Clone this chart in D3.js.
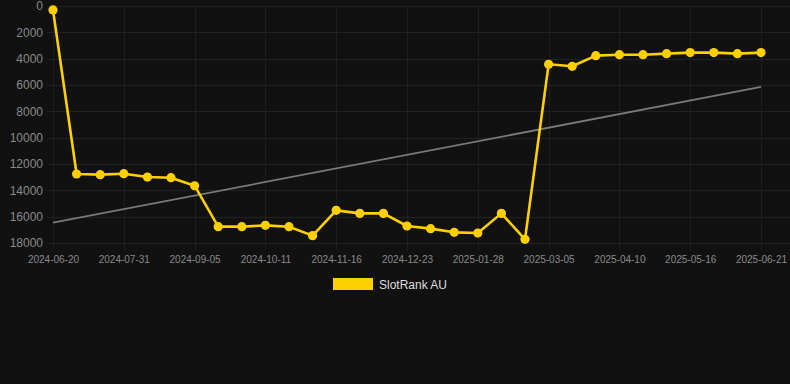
<!DOCTYPE html>
<html><head><meta charset="utf-8">
<script src="https://cdn.jsdelivr.net/npm/d3@7"></script>
<style>html,body{margin:0;padding:0;background:#111111;}svg{display:block;}</style>
</head><body>
<script>
const dates = ["2024-06-20","2024-07-03","2024-07-17","2024-07-31","2024-08-12","2024-08-24","2024-09-05","2024-09-17","2024-09-29","2024-10-11","2024-10-23","2024-11-04","2024-11-16","2024-11-28","2024-12-10","2024-12-23","2025-01-04","2025-01-16","2025-01-28","2025-02-09","2025-02-21","2025-03-05","2025-03-17","2025-03-29","2025-04-10","2025-04-22","2025-05-04","2025-05-16","2025-05-28","2025-06-09","2025-06-21"];
const ranks = [300,12760,12810,12735,12990,13040,13650,16760,16760,16660,16760,17440,15520,15750,15750,16710,16910,17190,17240,15750,17720,4430,4580,3770,3700,3700,3620,3540,3540,3620,3540];
const trendValues = [16460, 6150];
const yTicks = [0,2000,4000,6000,8000,10000,12000,14000,16000,18000];
const seriesName = "SlotRank AU";

(function(){
const W = 790, H = 384;
const svg = d3.select("body").append("svg").attr("width", W).attr("height", H);
svg.append("rect").attr("width", W).attr("height", H).attr("fill", "#111111");

const gridLeft = 47, gridRight = 790, plotTop = 6, plotBottom = 243;
const x = d3.scalePoint().domain(dates).range([53, 761]);
const y = d3.scaleLinear().domain([0, 18000]).range([plotTop, plotBottom]);
const labelDates = dates.filter((d, i) => i % 3 === 0);

svg.append("g").selectAll("line").data(yTicks).join("line")
  .attr("x1", gridLeft).attr("x2", gridRight)
  .attr("y1", d => Math.round(y(d)) + 0.5).attr("y2", d => Math.round(y(d)) + 0.5)
  .attr("stroke", "#212121").attr("stroke-width", 1);
svg.append("g").selectAll("line").data(labelDates).join("line")
  .attr("x1", d => Math.round(x(d)) + 0.5).attr("x2", d => Math.round(x(d)) + 0.5)
  .attr("y1", plotTop).attr("y2", plotBottom + 7)
  .attr("stroke", "#1e1e1e").attr("stroke-width", 1);

const yAxis = d3.axisLeft(y).tickValues(yTicks).tickSize(0).tickPadding(0).tickFormat(d3.format("d"));
const gy = svg.append("g").attr("transform", "translate(43,0)").call(yAxis);
gy.select(".domain").remove();
gy.selectAll("text").attr("fill", "#8a8a8a").attr("font-family", "Arial, 'Liberation Sans', sans-serif").attr("font-size", 12);

const xAxis = d3.axisBottom(x).tickValues(labelDates).tickSize(0).tickPadding(0);
const gx = svg.append("g").attr("transform", "translate(0,256)").call(xAxis);
gx.select(".domain").remove();
gx.selectAll("text").attr("fill", "#8a8a8a").attr("font-family", "Arial, 'Liberation Sans', sans-serif").attr("font-size", 10);

svg.append("line")
  .attr("x1", x(dates[0])).attr("y1", y(trendValues[0]))
  .attr("x2", x(dates[dates.length - 1])).attr("y2", y(trendValues[1]))
  .attr("stroke", "#7a7a7a").attr("stroke-width", 1.8);

const color = "#FFD000";
const line = d3.line().x((d, i) => x(dates[i])).y(d => y(d));
svg.append("path").datum(ranks).attr("d", line)
  .attr("fill", "none").attr("stroke", color).attr("stroke-width", 2.6).attr("stroke-linejoin", "round");
svg.append("g").selectAll("circle").data(ranks).join("circle")
  .attr("cx", (d, i) => x(dates[i])).attr("cy", d => y(d)).attr("r", 4.6).attr("fill", color);

const lg = svg.append("g");
lg.append("rect").attr("x", 333).attr("y", 278).attr("width", 40).attr("height", 12).attr("fill", color);
lg.append("text").attr("x", 379).attr("y", 288.5).text(seriesName)
  .attr("fill", "#dddddd").attr("font-family", "Arial, 'Liberation Sans', sans-serif").attr("font-size", 12);
})();
</script>
</body></html>
